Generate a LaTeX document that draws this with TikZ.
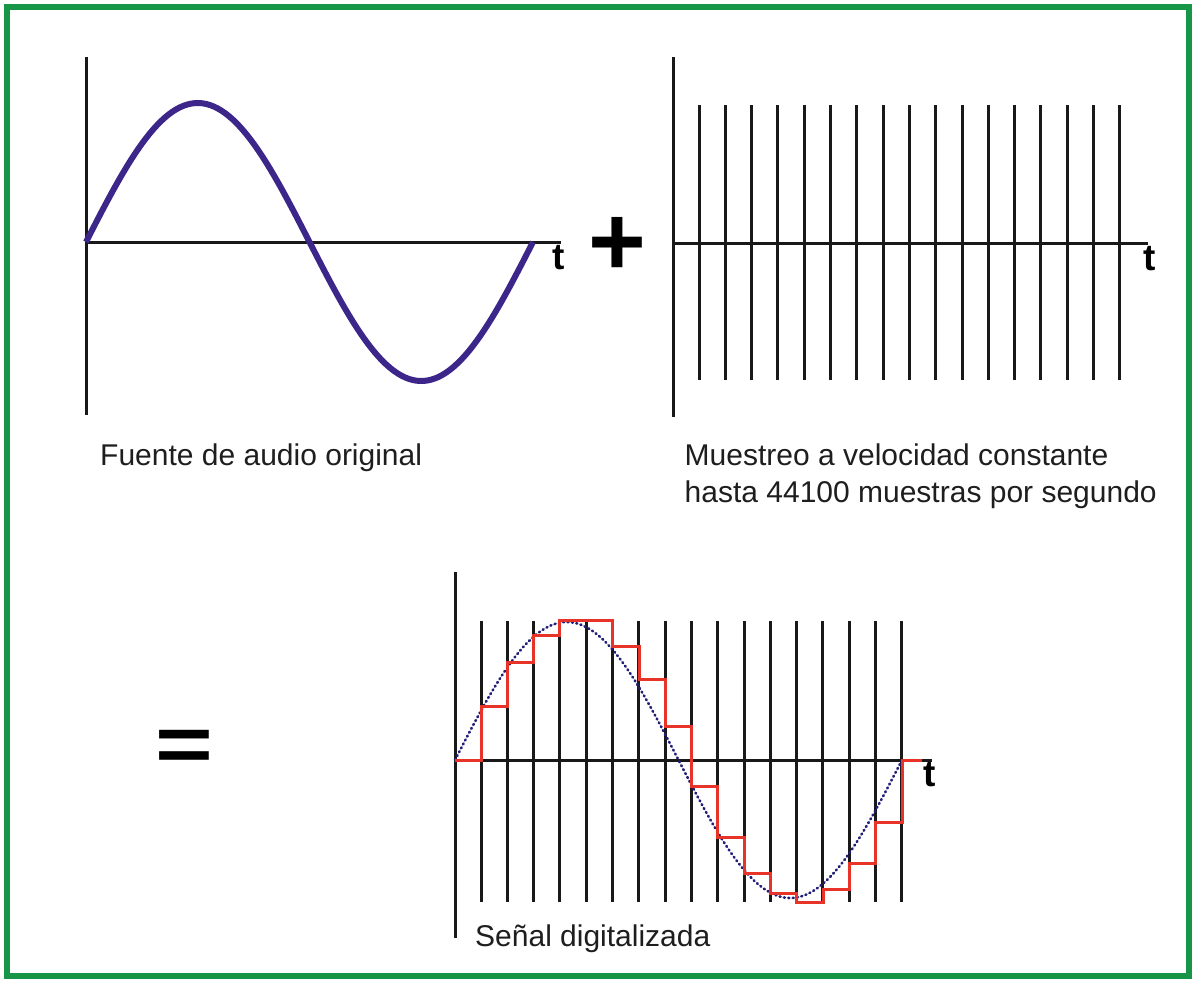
\documentclass[tikz,border=0pt]{standalone}
\usepackage{fontspec}
\setmainfont{Liberation Sans}
\usepackage{tikz}
\usetikzlibrary{positioning,calc}

\definecolor{framegreen}{RGB}{22,150,70}
\definecolor{wavepurple}{RGB}{60,38,138}
\definecolor{stepred}{RGB}{232,52,40}
\definecolor{dotblue}{RGB}{32,30,120}
\definecolor{textgray}{RGB}{30,30,30}

\begin{document}
\begin{tikzpicture}[
    x=1pt, y=-1pt,
    axis/.style={line width=3pt, black!90},
    sample/.style={line width=3pt, black!90},
    wave/.style={line width=6pt, wavepurple},
    dotwave/.style={line width=2.6pt, dotblue, line cap=round, dash pattern=on 1pt off 3.4pt},
    stair/.style={line width=3pt, stepred},
    captxt/.style={font=\fontsize{30}{37}\selectfont, text=textgray, inner sep=0pt, anchor=base west, align=left},
    tlabel/.style={font=\fontsize{37}{37}\selectfont\bfseries, inner sep=0pt},
    sign/.style={font=\fontsize{99}{99}\selectfont\bfseries, inner sep=0pt},
]
    % Frame
    \useasboundingbox (0,0) rectangle (1196,983);
    \fill[white] (0,0) rectangle (1196,983);
    \draw[framegreen, line width=6pt] (7,7) rectangle (1189,976);

    % Original signal
    \coordinate (o1) at (86,242);
    \coordinate (x1end) at (561,242);
    \draw[axis] (86,57) -- (86,415);
    \draw[axis] (o1) -- (x1end);
    \draw[wave] plot[domain=0:447, samples=120] ({86+\x},{242-139*sin(\x/447*360)});
    \node[tlabel, below=3pt of x1end, xshift=-2pt] (t1) {t};
    \node[captxt] (cap1) at (100,465) {Fuente de audio original};

    \node[sign] (plus) at (617.7,246) {+};

    % Sampling
    \coordinate (o2) at (673,243);
    \coordinate (x2end) at (1148,243);
    \draw[axis] (673,57) -- (673,417);
    \foreach \i in {0,...,16}
        \draw[sample] ({699+\i*26.3},105) -- ({699+\i*26.3},380);
    \draw[axis] (o2) -- (x2end);
    \node[tlabel, below=3pt of x2end, xshift=1.5pt] (t2) {t};
    \node[captxt] (cap2) at (684.5,502) {Muestreo a velocidad constante\\hasta 44100 muestras por segundo};

    \node[sign] (equals) at (184.3,750.6) {\scalebox{1}[0.8]{=}};

    % Digitised signal
    \coordinate (o3) at (455,760);
    \coordinate (x3end) at (932,760);
    \draw[axis] (455,572) -- (455,938);
    \foreach \i in {0,...,16}
        \draw[sample] ({481+\i*26.3},621) -- ({481+\i*26.3},902);
    \draw[axis] (o3) -- (x3end);
    \draw[dotwave] plot[domain=0:447, samples=150] ({455+\x},{760-138*sin(\x/447*360)});
    \draw[stair] (o3) -- (481,760) |- (507.3,706) |- (533.7,662) |- (559.7,635)
        |- (612.7,620) |- (639,646) |- (665.3,679) |- (691.3,726) |- (717.7,786)
        |- (744,837) |- (770.3,873) |- (796.7,893) |- (823,902) |- (849.3,889)
        |- (875.7,863) |- (902,822) |- (922,760);
    \node[tlabel, below=2pt of x3end, xshift=-2.5pt] (t3) {t};
    \node[captxt] (cap3) at (475,946.7) {Señal digitalizada};
\end{tikzpicture}
\end{document}
